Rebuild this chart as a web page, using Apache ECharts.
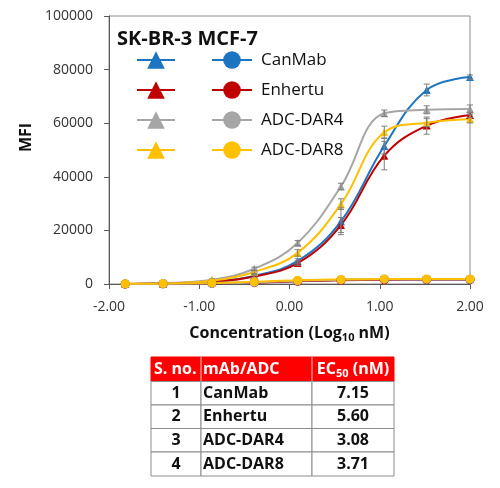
<html>
<head>
<meta charset="UTF-8">
<script src="https://cdn.jsdelivr.net/npm/echarts@6.0.0/dist/echarts.min.js"></script>
</head>
<body style="margin:0;background:#fff">
<div id="chart" style="width:500px;height:488px;"></div>
<script>
    // concentration, log10 nM
    var logConc = [-1.82, -1.40, -0.86, -0.39, 0.09, 0.57, 1.05, 1.52, 2.00];
    var drugs = ['CanMab', 'Enhertu', 'ADC-DAR4', 'ADC-DAR8'];
    var colors = ['#1b75c0', '#c00000', '#a6a6a6', '#ffc000'];

    // SK-BR-3 MFI (triangles)
    var skCanMab  = [0, 200, 900, 3000, 8600, 23400, 51500, 72400, 77200];
    var skEnhertu = [0, 200, 800, 2800, 7800, 22000, 47900, 59100, 63100];
    var skDar4    = [0, 300, 1600, 5700, 15300, 36400, 63700, 65000, 65300];
    var skDar8    = [0, 250, 1200, 4500, 11600, 29800, 56600, 60200, 61600];
    // SK-BR-3 error (+/-)
    var skCanMabErr  = [0, 0, 200, 500, 800, 5000, 3000, 2200, 800];
    var skEnhertuErr = [0, 0, 200, 500, 800, 2800, 5300, 3200, 1000];
    var skDar4Err    = [0, 0, 300, 600, 900, 1200, 1200, 1500, 1500];
    var skDar8Err    = [0, 0, 300, 600, 1200, 2000, 2300, 1500, 1500];

    // MCF-7 MFI (circles)
    var mcfCanMab  = [0, 100, 300, 600, 1100, 1500, 1700, 1700, 1700];
    var mcfEnhertu = [0, 100, 250, 500, 1000, 1400, 1600, 1700, 1700];
    var mcfDar4    = [0, 100, 300, 600, 1200, 1600, 1800, 1800, 1800];
    var mcfDar8    = [100, 150, 400, 800, 1400, 1700, 1900, 1900, 1900];

    // EC50 table
    var tableHead = ['S. no.', 'mAb/ADC', 'EC{sub|50} (nM)'];
    var tableNo = ['1', '2', '3', '4'];
    var tableNames = ['CanMab', 'Enhertu', 'ADC-DAR4', 'ADC-DAR8'];
    var ec50 = ['7.15', '5.60', '3.08', '3.71'];

    var skVals = [skCanMab, skEnhertu, skDar4, skDar8];
    var skErrs = [skCanMabErr, skEnhertuErr, skDar4Err, skDar8Err];
    var mcfVals = [mcfCanMab, mcfEnhertu, mcfDar4, mcfDar8];

    var FONT = 'Open Sans';

    function pairs(ys) {
        var out = [];
        for (var i = 0; i < logConc.length; i++) out.push([logConc[i], ys[i]]);
        return out;
    }

    function errData(ys, es) {
        var out = [];
        for (var i = 0; i < logConc.length; i++) {
            if (es[i] > 0) out.push([logConc[i], ys[i] - es[i], ys[i] + es[i]]);
        }
        return out;
    }

    function renderErr(params, api) {
        var x = api.value(0);
        var lo = api.coord([x, api.value(1)]);
        var hi = api.coord([x, api.value(2)]);
        var w = 3;
        var st = {stroke: '#7f7f7f', lineWidth: 1};
        return {
            type: 'group',
            children: [
                {type: 'line', shape: {x1: lo[0], y1: lo[1], x2: hi[0], y2: hi[1]}, style: st},
                {type: 'line', shape: {x1: lo[0] - w, y1: lo[1], x2: lo[0] + w, y2: lo[1]}, style: st},
                {type: 'line', shape: {x1: hi[0] - w, y1: hi[1], x2: hi[0] + w, y2: hi[1]}, style: st}
            ]
        };
    }

    var series = [];
    var skNames = [], mcfNames = [];
    for (var i = 0; i < drugs.length; i++) {
        skNames.push('SK-BR-3 ' + drugs[i]);
        series.push({
            name: 'SK-BR-3 ' + drugs[i],
            type: 'line',
            smooth: 0.4,
            data: pairs(skVals[i]),
            symbol: 'triangle',
            symbolSize: 8,
            lineStyle: {color: colors[i], width: 2},
            itemStyle: {color: colors[i]},
            z: 3
        });
        series.push({
            type: 'custom',
            renderItem: renderErr,
            data: errData(skVals[i], skErrs[i]),
            encode: {x: 0, y: [1, 2]},
            silent: true,
            z: 4
        });
    }
    for (var j = 0; j < drugs.length; j++) {
        mcfNames.push('MCF-7 ' + drugs[j]);
        series.push({
            name: 'MCF-7 ' + drugs[j],
            type: 'line',
            smooth: 0.4,
            data: pairs(mcfVals[j]),
            symbol: 'circle',
            symbolSize: 9,
            lineStyle: {color: colors[j], width: 2},
            itemStyle: {color: colors[j]},
            z: 5
        });
    }

    // table built from the arrays above
    var colX = [151, 201, 312, 394];
    var rowY = [357, 381.5, 405, 428.5, 452, 476];
    var graphic = [];
    graphic.push({type: 'rect', shape: {x: colX[0], y: rowY[0], width: colX[3] - colX[0], height: rowY[1] - rowY[0]},
        style: {fill: '#ff0000', stroke: '#ff0000'}});
    for (var r = 1; r < rowY.length - 1; r++) {
        for (var c = 0; c < 3; c++) {
            graphic.push({type: 'rect', shape: {x: colX[c], y: rowY[r], width: colX[c + 1] - colX[c], height: rowY[r + 1] - rowY[r]},
                style: {fill: '#fff', stroke: '#8c8c8c', lineWidth: 1}});
        }
    }
    graphic.push({type: 'line', shape: {x1: colX[1], y1: rowY[0], x2: colX[1], y2: rowY[1]}, style: {stroke: '#ffc8c8', lineWidth: 1}});
    graphic.push({type: 'line', shape: {x1: colX[2], y1: rowY[0], x2: colX[2], y2: rowY[1]}, style: {stroke: '#ffc8c8', lineWidth: 1}});

    function cellText(txt, x, y, align, color) {
        return {
            type: 'text', x: x, y: y, z: 10,
            style: {
                text: txt, align: align, verticalAlign: 'middle', fill: color,
                fontFamily: FONT, fontWeight: 'bold', fontSize: 16,
                rich: {sub: {fontFamily: FONT, fontWeight: 'bold', fontSize: 11, fill: color, padding: [9, 0, 0, 0]}}
            }
        };
    }
    var hy = (rowY[0] + rowY[1]) / 2;
    graphic.push(cellText(tableHead[0], colX[0] + 3, hy, 'left', '#fff'));
    graphic.push(cellText(tableHead[1], colX[1] + 2, hy, 'left', '#fff'));
    graphic.push(cellText(tableHead[2], (colX[2] + colX[3]) / 2, hy, 'center', '#fff'));
    for (var k = 0; k < tableNames.length; k++) {
        var cy = (rowY[k + 1] + rowY[k + 2]) / 2;
        graphic.push(cellText(tableNo[k], (colX[0] + colX[1]) / 2, cy, 'center', '#111'));
        graphic.push(cellText(tableNames[k], colX[1] + 2, cy, 'left', '#111'));
        graphic.push(cellText(ec50[k], (colX[2] + colX[3]) / 2, cy, 'center', '#111'));
    }

    var legendBase = {
        orient: 'vertical',
        top: 49,
        padding: 0,
        itemHeight: 22,
        itemGap: 8,
        selectedMode: false,
        formatter: function (n) { return n.replace(/^(SK-BR-3|MCF-7) /, ''); }
    };

    var chart = echarts.init(document.getElementById('chart'));
    chart.setOption({
        animation: false,
        backgroundColor: '#fff',
        title: {
            text: 'SK-BR-3 MCF-7',
            left: 117,
            top: 29,
            padding: 0,
            textStyle: {fontFamily: FONT, fontWeight: 'bold', fontSize: 20, color: '#111'}
        },
        legend: [
            echarts.util.extend({
                data: skNames,
                left: 136,
                itemWidth: 38,
                textStyle: {fontFamily: FONT, fontSize: 17, lineHeight: 22, color: 'rgba(0,0,0,0)'}
            }, legendBase),
            echarts.util.extend({
                data: mcfNames,
                left: 211,
                itemWidth: 40,
                textStyle: {fontFamily: FONT, fontSize: 17, lineHeight: 22, color: '#111', padding: [0, 0, 0, 4]}
            }, legendBase)
        ],
        grid: {
            left: 109, right: 30, top: 16, bottom: 204,
            show: true, borderColor: '#8c8c8c', borderWidth: 1
        },
        xAxis: {
            type: 'value',
            min: -2, max: 2, interval: 1,
            name: 'Concentration (Log{sub|10} nM)',
            nameLocation: 'middle',
            nameGap: 39,
            nameTextStyle: {
                fontFamily: FONT, fontWeight: 'bold', fontSize: 16, color: '#111',
                rich: {sub: {fontFamily: FONT, fontWeight: 'bold', fontSize: 11, color: '#111', padding: [9, 0, 0, 0]}}
            },
            axisLine: {onZero: false, lineStyle: {color: '#595959', width: 1}},
            axisTick: {show: true, length: 5, lineStyle: {color: '#595959'}},
            axisLabel: {
                margin: 16,
                fontFamily: FONT, fontSize: 14, color: '#333',
                formatter: function (v) { return v.toFixed(2); }
            },
            splitLine: {show: false},
            minorTick: {show: false},
            minorSplitLine: {show: false}
        },
        yAxis: {
            type: 'value',
            min: 0, max: 100000, interval: 20000,
            name: 'MFI',
            nameLocation: 'middle',
            nameGap: 67,
            nameTextStyle: {fontFamily: FONT, fontWeight: 'bold', fontSize: 16, color: '#111', padding: [0, 0, 0, 25]},
            axisLine: {show: true, onZero: false, lineStyle: {color: '#595959', width: 1}},
            axisTick: {show: true, length: 5, lineStyle: {color: '#595959'}},
            axisLabel: {
                margin: 16,
                fontFamily: FONT, fontSize: 14, color: '#333',
                formatter: function (v) { return String(v); }
            },
            splitLine: {show: false}
        },
        series: series,
        graphic: graphic
    });
</script>
</body>
</html>
